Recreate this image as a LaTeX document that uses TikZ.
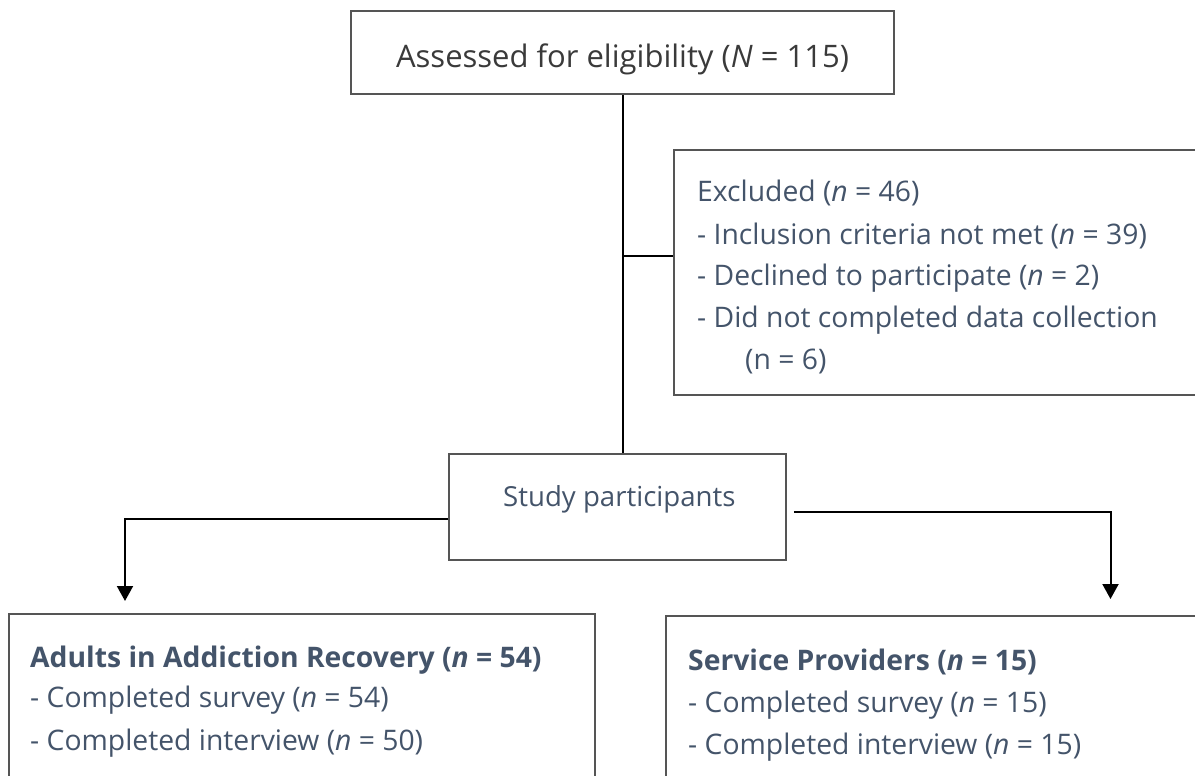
\documentclass[tikz,border=0pt]{standalone}
\usepackage{fontspec}
\setmainfont{Open Sans}
\usetikzlibrary{arrows.meta,calc}
\definecolor{txtblue}{HTML}{44546A}
\definecolor{txtgray}{HTML}{3A3A3A}
\definecolor{boxline}{HTML}{555555}
\tikzset{
  box/.style={draw=boxline, line width=1.6pt, fill=white, rectangle, inner sep=0pt},
  conn/.style={draw=black, line width=2pt},
  arr/.style={conn, -{Triangle[width=16pt,length=15pt]}},
  txt/.style={inner sep=0pt, anchor=base west, text=txtblue, font=\fontsize{28.3}{32}\selectfont},
  btxt/.style={txt, font=\bfseries\fontsize{28.3}{32}\selectfont},
}
\begin{document}
\begin{tikzpicture}[x=1pt,y=-1pt]
\useasboundingbox (0,0) rectangle (1195,776);
\fill[white] (0,0) rectangle (1195,776);
\clip (0,0) rectangle (1195,776);
% boxes
\node[box, minimum width=543pt, minimum height=83pt] (top) at (622.5,52.5) {};
\node[box, minimum width=540pt, minimum height=245pt] (excl) at (944,272.5) {};
\node[box, minimum width=337pt, minimum height=106pt] (study) at (617.5,507) {};
\node[box, minimum width=586pt, minimum height=180pt] (adults) at (302,704) {};
\node[box, minimum width=540pt, minimum height=180pt] (prov) at (936,706) {};
% texts
\node[inner sep=0pt, anchor=base, text=txtgray, font=\fontsize{31}{36}\selectfont] (ttop) at (622.5,67) {Assessed for eligibility (\textit{N} = 115)};
\node[txt] (e1) at (697,201) {Excluded (\textit{n} = 46)};
\node[txt] (e2) at (697,244) {- Inclusion criteria not met (\textit{n} = 39)};
\node[txt] (e3) at (697,285) {- Declined to participate (\textit{n} = 2)};
\node[txt] (e4) at (697,327) {- Did not completed data collection};
\node[txt] (e5) at (745,369) {(n = 6)};
\node[txt, font=\fontsize{27.6}{32}\selectfont] (tstudy) at (503,506) {Study participants};
\node[btxt] (a1) at (30,667) {Adults in Addiction Recovery (\textit{n} = 54)};
\node[txt] (a2) at (30,707) {- Completed survey (\textit{n} = 54)};
\node[txt] (a3) at (30,750) {- Completed interview (\textit{n} = 50)};
\node[btxt] (p1) at (688,670) {Service Providers (\textit{n} = 15)};
\node[txt] (p2) at (688,712) {- Completed survey (\textit{n} = 15)};
\node[txt] (p3) at (688,754) {- Completed interview (\textit{n} = 15)};
% connectors
\coordinate (branch) at (623,256);
\coordinate (tipL) at (125,601);
\coordinate (tipR) at (1110.5,599);
\draw[conn] ([xshift=0.5pt]top.south) -- ([xshift=0.5pt]top.south |- study.north);
\draw[conn] (branch) -- (branch -| excl.west);
\draw[arr] ([yshift=-12pt]study.west) -| (tipL);
\draw[arr] ([xshift=7pt,yshift=-5pt]study.east) -| (tipR);
\end{tikzpicture}
\end{document}
